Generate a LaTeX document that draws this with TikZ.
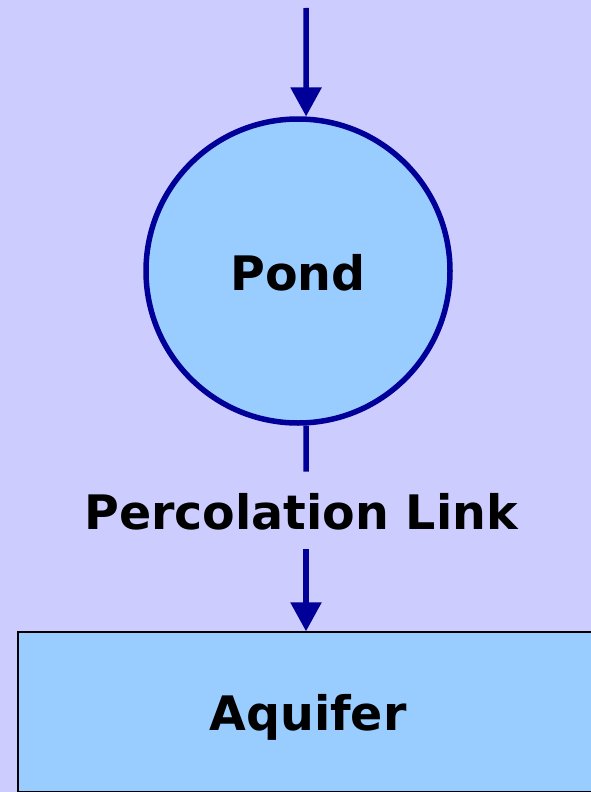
\documentclass[tikz,border=0pt]{standalone}
\usepackage{fontspec}
\setmainfont{DejaVu Sans}
\usetikzlibrary{arrows.meta}
\definecolor{bgcol}{HTML}{CCCCFF}
\definecolor{fillcol}{HTML}{99CCFF}
\definecolor{linecol}{HTML}{000099}
\begin{document}
\begin{tikzpicture}[x=1pt,y=-1pt,
  lbl/.style={font=\fontsize{47.5}{52}\selectfont\bfseries, text=black},
  flow/.style={draw=linecol, line width=5.5pt},
  flowtip/.style={flow, -{Triangle[length=29pt,width=30pt]}},
  pondshape/.style={circle, draw=linecol, fill=fillcol, line width=5.5pt,
    minimum size=304pt, inner sep=0pt, text height=38pt, text depth=0pt, lbl},
  storebox/.style={rectangle, draw=black, fill=fillcol, line width=1.8pt,
    minimum width=580pt, minimum height=159.3pt, inner sep=0pt,
    text height=37.4pt, text depth=0pt, lbl}]
  % canvas
  \fill[bgcol] (0,0) rectangle (591,792);
  \useasboundingbox (0,0) rectangle (591,792);

  % storage elements
  \node[pondshape] (pond) at (298,271) {Pond};
  \node[storebox] (aquifer) at (308,711.9) {Aquifer};

  % inflow
  \coordinate (inflow) at (306,8);
  \draw[flowtip] (inflow) -- (pond.87);

  % percolation link with its label in the gap
  \coordinate (linkA) at (306,471.7);
  \coordinate (linkB) at (306,549.3);
  \node[lbl, anchor=base] (perc) at (301,529) {Percolation Link};
  \draw[flow] (pond.273) -- (linkA);
  \draw[flowtip] (linkB) -- (linkB |- aquifer.north);
\end{tikzpicture}
\end{document}
